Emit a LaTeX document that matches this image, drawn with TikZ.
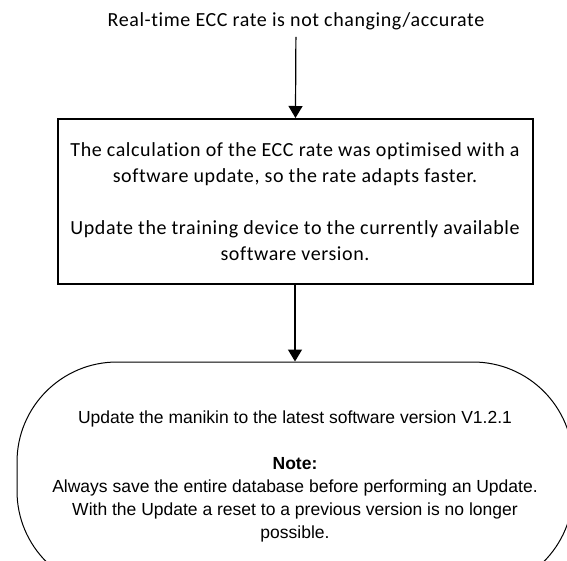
\documentclass[tikz,border=0pt]{standalone}
\usepackage{fontspec}
\setmainfont{Carlito}[LetterSpace=3,Ligatures=NoCommon]
\newfontfamily\arialfont{Liberation Sans}
\usetikzlibrary{arrows.meta}

\begin{document}
\begin{tikzpicture}[x=1pt,y=-1pt,
  flow/.style={-{Triangle[width=14pt,length=12pt]}, line width=1.2pt},
  stepbox/.style={draw, line width=2pt, minimum width=475pt, minimum height=165pt, align=center, font=\fontsize{20}{26}\selectfont},
  endbox/.style={draw, line width=1pt, rounded corners=100pt, minimum width=556pt, minimum height=229pt, align=center, font=\arialfont\fontsize{17.5}{23}\selectfont}]
\useasboundingbox (0,0) rectangle (567,560);
\node[font=\fontsize{20}{24}\selectfont, inner ysep=7pt] (start) at (296,21){Real-time ECC rate is not changing/accurate};
\node[stepbox] (calc) at (295,201.5){The calculation of the ECC rate was optimised with a\\software update, so the rate adapts faster.\\[26pt]Update the training device to the currently available\\software version.};
\node[endbox] (manikin) at (295,476.5){Update the manikin to the latest software version V1.2.1\\[23pt]\textbf{Note:}\\Always save the entire database before performing an Update.\\With the Update a reset to a previous version is no longer\\possible.};
\draw[flow] (start) -- (calc);
\draw[flow] (calc) -- (manikin);
\end{tikzpicture}
\end{document}
